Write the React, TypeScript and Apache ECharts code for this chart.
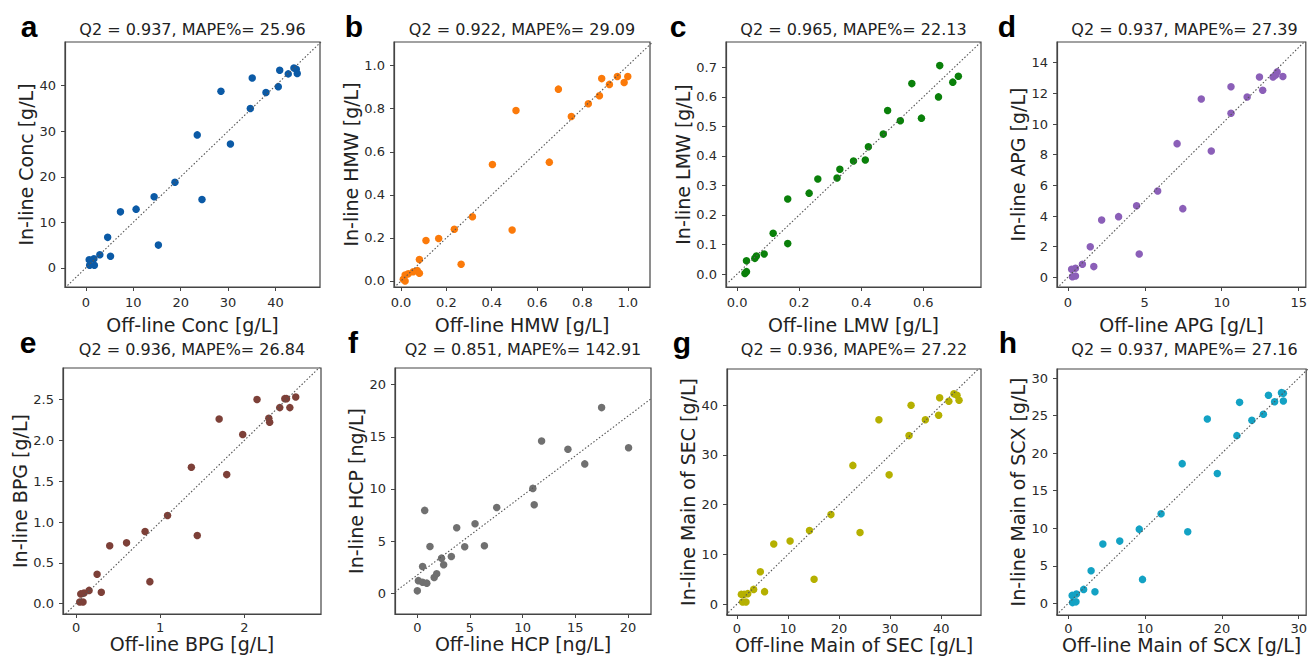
import React, { useEffect, useRef } from "react";
import * as echarts from "echarts";

// ---------- Data ----------
const panelLetters = ["a", "b", "c", "d", "e", "f", "g", "h"];
const panelTitles = [
  "Q2 = 0.937, MAPE%= 25.96",
  "Q2 = 0.922, MAPE%= 29.09",
  "Q2 = 0.965, MAPE%= 22.13",
  "Q2 = 0.937, MAPE%= 27.39",
  "Q2 = 0.936, MAPE%= 26.84",
  "Q2 = 0.851, MAPE%= 142.91",
  "Q2 = 0.936, MAPE%= 27.22",
  "Q2 = 0.937, MAPE%= 27.16",
];
const xNames = [
  "Off-line Conc [g/L]",
  "Off-line HMW [g/L]",
  "Off-line LMW [g/L]",
  "Off-line APG [g/L]",
  "Off-line BPG [g/L]",
  "Off-line HCP [ng/L]",
  "Off-line Main of SEC [g/L]",
  "Off-line Main of SCX [g/L]",
];
const yNames = [
  "In-line Conc [g/L]",
  "In-line HMW [g/L]",
  "In-line LMW [g/L]",
  "In-line APG [g/L]",
  "In-line BPG [g/L]",
  "In-line HCP [ng/L]",
  "In-line Main of SEC [g/L]",
  "In-line Main of SCX [g/L]",
];

const concOff = [0.7, 1.7, 0.8, 1.8, 2.95, 5.2, 4.6, 7.3, 10.6, 14.4, 15.3, 18.8, 23.5, 24.5, 28.5, 30.5, 34.7, 35.1, 38.0, 40.6, 40.9, 42.7, 43.9, 44.4, 44.6];
const concIn = [1.8, 2.0, 0.6, 0.6, 2.9, 2.55, 6.7, 12.3, 12.9, 15.6, 5.0, 18.8, 29.2, 15.0, 38.8, 27.2, 35.0, 41.7, 38.5, 39.8, 43.4, 42.6, 43.9, 43.6, 42.7];

const hmwOff = [0.01, 0.018, 0.018, 0.032, 0.054, 0.072, 0.081, 0.081, 0.11, 0.166, 0.235, 0.265, 0.315, 0.403, 0.49, 0.507, 0.654, 0.694, 0.751, 0.826, 0.875, 0.885, 0.919, 0.954, 0.984, 1.0];
const hmwIn = [0.008, 0.028, 0.0, 0.033, 0.043, 0.048, 0.036, 0.1, 0.188, 0.197, 0.24, 0.078, 0.298, 0.541, 0.237, 0.792, 0.552, 0.891, 0.764, 0.823, 0.86, 0.94, 0.913, 0.95, 0.922, 0.95];

const lmwOff = [0.025, 0.03, 0.03, 0.057, 0.062, 0.087, 0.116, 0.163, 0.163, 0.232, 0.26, 0.322, 0.331, 0.375, 0.413, 0.423, 0.471, 0.485, 0.526, 0.563, 0.594, 0.649, 0.653, 0.695, 0.713];
const lmwIn = [0.002, 0.008, 0.045, 0.053, 0.061, 0.068, 0.138, 0.103, 0.254, 0.274, 0.322, 0.325, 0.355, 0.383, 0.386, 0.431, 0.474, 0.554, 0.519, 0.645, 0.528, 0.6, 0.706, 0.65, 0.67];

const apgOff = [0.25, 0.5, 0.3, 0.5, 0.95, 1.46, 1.69, 2.2, 3.3, 4.47, 4.64, 5.84, 7.1, 7.47, 8.67, 9.32, 10.6, 10.6, 11.65, 12.45, 12.66, 13.33, 13.5, 13.6, 13.97];
const apgIn = [0.52, 0.59, 0.04, 0.09, 0.85, 2.0, 0.7, 3.74, 3.96, 4.67, 1.52, 5.63, 8.72, 4.48, 11.63, 8.24, 12.43, 10.7, 11.76, 13.07, 12.2, 13.07, 13.2, 13.4, 13.1];

const bpgOff = [0.044, 0.083, 0.056, 0.095, 0.155, 0.25, 0.3, 0.4, 0.6, 0.82, 0.877, 1.087, 1.37, 1.44, 1.7, 1.79, 1.98, 2.15, 2.29, 2.3, 2.42, 2.48, 2.5, 2.54, 2.61];
const bpgIn = [0.02, 0.02, 0.12, 0.13, 0.163, 0.36, 0.14, 0.71, 0.745, 0.884, 0.27, 1.08, 1.67, 0.835, 2.26, 1.58, 2.07, 2.5, 2.27, 2.22, 2.4, 2.51, 2.51, 2.4, 2.53];

const hcpOff = [0, 0.1, 0.5, 0.9, 0.5, 0.7, 1.2, 1.6, 1.84, 2.3, 2.5, 3.23, 3.74, 4.5, 5.48, 6.37, 7.54, 10.97, 11.1, 11.8, 14.3, 15.9, 17.5, 20.06];
const hcpIn = [0.22, 1.2, 1.05, 0.96, 2.56, 7.94, 4.48, 1.5, 1.86, 3.36, 2.72, 3.52, 6.27, 4.45, 6.66, 4.54, 8.22, 10.05, 8.48, 14.6, 13.8, 12.4, 17.8, 13.95];
const hcpFitLine = [[-2.12, 0.12], [22.19, 18.65]];

const secOff = [0.85, 1.4, 1.1, 1.76, 2.1, 3.26, 4.57, 5.4, 7.2, 10.4, 14.2, 15.1, 18.4, 22.7, 24.1, 27.8, 29.8, 33.7, 34.1, 36.9, 39.5, 39.7, 41.5, 42.5, 43.1, 43.5];
const secIn = [1.95, 1.95, 0.4, 0.4, 2.1, 2.95, 6.5, 2.5, 12.1, 12.7, 14.8, 5.0, 18.0, 27.9, 14.4, 37.1, 26.0, 33.9, 40.0, 37.1, 38.0, 41.5, 40.8, 42.3, 42.0, 41.0];

const scxOff = [0.55, 1.0, 0.5, 1.06, 2.0, 2.97, 3.47, 4.5, 6.7, 9.24, 9.66, 12.08, 14.83, 15.55, 18.1, 19.4, 21.95, 22.3, 23.9, 25.4, 26.06, 26.86, 27.75, 28.0, 28.0];
const scxIn = [0.1, 0.2, 1.06, 1.24, 1.86, 4.34, 1.55, 7.9, 8.29, 9.88, 3.19, 11.92, 18.6, 9.53, 24.55, 17.28, 22.33, 26.76, 24.37, 25.17, 27.7, 26.85, 28.05, 26.94, 27.96];

// tick values
const concTicks = [0, 10, 20, 30, 40];
const hmwTicks = [0, 0.2, 0.4, 0.6, 0.8, 1.0];
const lmwXTicks = [0, 0.2, 0.4, 0.6];
const lmwYTicks = [0, 0.1, 0.2, 0.3, 0.4, 0.5, 0.6, 0.7];
const apgXTicks = [0, 5, 10, 15];
const apgYTicks = [0, 2, 4, 6, 8, 10, 12, 14];
const bpgXTicks = [0, 1, 2];
const bpgYTicks = [0, 0.5, 1.0, 1.5, 2.0, 2.5];
const hcpTicks = [0, 5, 10, 15, 20];
const secTicks = [0, 10, 20, 30, 40];
const scxXTicks = [0, 10, 20, 30];
const scxYTicks = [0, 5, 10, 15, 20, 25, 30];

// ---------- Panel configuration ----------
type Panel = {
  xs: number[]; ys: number[];
  xr: [number, number]; yr: [number, number];
  xt: number[]; yt: number[]; xd: number; yd: number;
  color: string; grid: [number, number, number, number]; row: number;
  line?: number[][];
};

const panels: Panel[] = [
  { xs: concOff, ys: concIn, xr: [-4.4, 49.4], yr: [-4.2, 49.6], xt: concTicks, yt: concTicks, xd: 0, yd: 0, color: "#0b5aa6", grid: [65, 42, 255, 245], row: 0 },
  { xs: hmwOff, ys: hmwIn, xr: [-0.031, 1.098], yr: [-0.028, 1.11], xt: hmwTicks, yt: hmwTicks, xd: 1, yd: 1, color: "#fb7a0a", grid: [394, 42, 256, 245], row: 0 },
  { xs: lmwOff, ys: lmwIn, xr: [-0.036, 0.786], yr: [-0.044, 0.786], xt: lmwXTicks, yt: lmwYTicks, xd: 1, yd: 1, color: "#0a800a", grid: [726, 42, 255, 245], row: 0 },
  { xs: apgOff, ys: apgIn, xr: [-0.7, 15.46], yr: [-0.63, 15.35], xt: apgXTicks, yt: apgYTicks, xd: 0, yd: 0, color: "#8b5fb8", grid: [1057, 42, 255, 245], row: 0 },
  { xs: bpgOff, ys: bpgIn, xr: [-0.155, 2.91], yr: [-0.126, 2.885], xt: bpgXTicks, yt: bpgYTicks, xd: 0, yd: 1, color: "#7d4038", grid: [63, 368, 258, 246], row: 1 },
  { xs: hcpOff, ys: hcpIn, xr: [-2.12, 22.19], yr: [-2.0, 21.6], xt: hcpTicks, yt: hcpTicks, xd: 0, yd: 0, color: "#707070", grid: [395, 368, 256, 246], row: 1, line: hcpFitLine },
  { xs: secOff, ys: secIn, xr: [-1.96, 47.8], yr: [-2.2, 47.3], xt: secTicks, yt: secTicks, xd: 0, yd: 0, color: "#b5b000", grid: [727, 369, 254, 246], row: 1 },
  { xs: scxOff, ys: scxIn, xr: [-1.47, 30.97], yr: [-1.55, 31.2], xt: scxXTicks, yt: scxYTicks, xd: 0, yd: 0, color: "#13a2c4", grid: [1057, 369, 255, 246], row: 1 },
];

const FONT = "DejaVu Sans";
const AXIS_COLOR = "#444";

function buildOption() {
  const grid: any[] = [];
  const xAxis: any[] = [];
  const yAxis: any[] = [];
  const series: any[] = [];
  const graphic: any[] = [];

  panels.forEach((p, i) => {
    const [l, t, w, h] = p.grid;
    grid.push({ left: l, top: t, width: w, height: h, show: true, borderColor: AXIS_COLOR, borderWidth: 1.2, backgroundColor: "transparent" });
    const common = (ticks: number[], dec: number, margin: number) => ({
      type: "value",
      gridIndex: i,
      nameLocation: "middle",
      nameTextStyle: { fontFamily: FONT, fontSize: 19, color: "#222" },
      axisLine: { show: true, onZero: false, lineStyle: { color: AXIS_COLOR, width: 1.2 } },
      axisTick: { show: true, length: 4, customValues: ticks, lineStyle: { color: AXIS_COLOR, width: 1 } },
      axisLabel: {
        customValues: ticks,
        formatter: (v: number) => v.toFixed(dec),
        fontFamily: FONT,
        fontSize: 13,
        color: "#2a2a2a",
        margin,
      },
      splitLine: { show: false },
    });
    xAxis.push({
      ...common(p.xt, p.xd, p.row === 0 ? 9 : 7),
      min: p.xr[0], max: p.xr[1],
      name: xNames[i],
      nameGap: p.row === 0 ? 28 : 20,
    });
    yAxis.push({
      ...common(p.yt, p.yd, 9),
      min: p.yr[0], max: p.yr[1],
      name: yNames[i],
      nameGap: 30,
    });
    const lo = Math.min(p.xr[0], p.yr[0]);
    const hi = Math.max(p.xr[1], p.yr[1]);
    series.push({
      type: "scatter",
      xAxisIndex: i,
      yAxisIndex: i,
      symbolSize: 7.5,
      itemStyle: { color: p.color, opacity: 1 },
      data: p.xs.map((x, k) => [x, p.ys[k]]),
      z: 2,
    });
    series.push({
      type: "line",
      xAxisIndex: i,
      yAxisIndex: i,
      showSymbol: false,
      symbol: "none",
      clip: true,
      lineStyle: { color: "#555", width: 1.1, type: [1.5, 2] },
      data: p.line ? p.line : [[lo, lo], [hi, hi]],
      z: 3,
      silent: true,
    });

    const cx = l + w / 2;
    graphic.push({
      type: "text",
      x: cx,
      y: p.row === 0 ? 29 : 349,
      style: { text: panelTitles[i], fill: "#222", font: `16px "${FONT}"`, align: "center", verticalAlign: "middle" },
    });
  });

  const letterPos = [
    [29, 26], [354, 26], [678, 26], [1007, 26],
    [28, 342], [353, 342], [682, 342], [1008, 342],
  ];
  panelLetters.forEach((s, i) => {
    graphic.push({
      type: "text",
      x: letterPos[i][0],
      y: letterPos[i][1],
      style: { text: s, fill: "#000", font: `bold 30px "Liberation Sans", Arial, sans-serif`, align: "center", verticalAlign: "middle" },
    });
  });

  return {
    animation: false,
    backgroundColor: "#fff",
    grid,
    xAxis,
    yAxis,
    series,
    graphic,
  };
}

export default function App() {
  const ref = useRef<HTMLDivElement>(null);
  useEffect(() => {
    if (!ref.current) return;
    const chart = echarts.init(ref.current, undefined, { renderer: "svg" });
    chart.setOption(buildOption() as any);
    return () => chart.dispose();
  }, []);
  return (
    <div style={{ position: "fixed", left: 0, top: 0, width: 1310, height: 659, overflow: "hidden", background: "#fff" }}>
      <div ref={ref} style={{ width: 1310, height: 659 }} />
    </div>
  );
}
